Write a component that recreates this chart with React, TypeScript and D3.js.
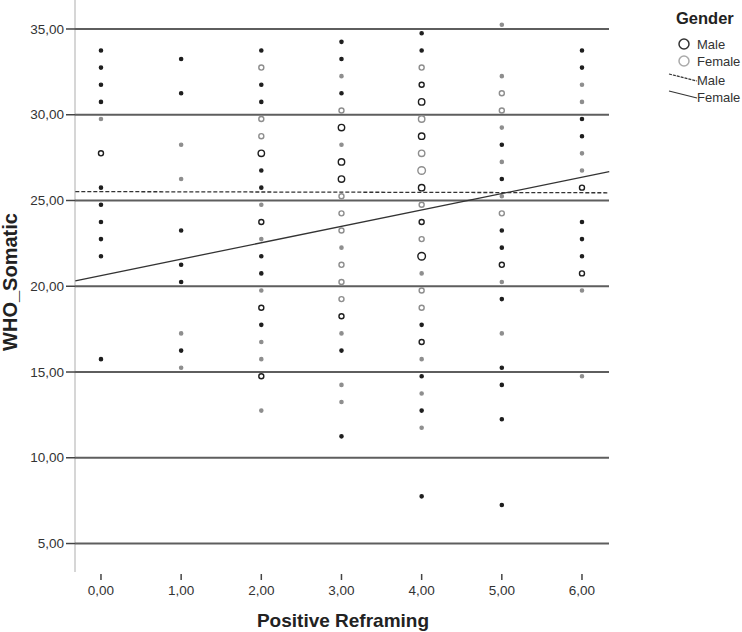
import React, { useEffect, useRef } from "react";
import * as d3 from "d3";

// [Positive Reframing, WHO_Somatic, count]
const malePoints: [number, number, number][] = [
  [0, 33.75, 1], [0, 32.75, 1], [0, 31.75, 1], [0, 30.75, 1], [0, 27.75, 2], [0, 25.75, 1],
  [0, 24.75, 1], [0, 23.75, 1], [0, 22.75, 1], [0, 21.75, 1], [0, 15.75, 1],
  [1, 33.25, 1], [1, 31.25, 1], [1, 23.25, 1], [1, 21.25, 1], [1, 20.25, 1], [1, 16.25, 1],
  [2, 33.75, 1], [2, 31.75, 1], [2, 30.75, 1], [2, 27.75, 3], [2, 26.75, 1], [2, 25.75, 1],
  [2, 23.75, 2], [2, 21.75, 1], [2, 20.75, 1], [2, 18.75, 2], [2, 17.75, 1], [2, 14.75, 2],
  [3, 34.25, 1], [3, 33.25, 1], [3, 31.25, 1], [3, 29.25, 3], [3, 27.25, 3], [3, 26.25, 3],
  [3, 18.25, 2], [3, 16.25, 1], [3, 11.25, 1],
  [4, 34.75, 1], [4, 33.75, 1], [4, 31.75, 2], [4, 30.75, 3], [4, 28.75, 3], [4, 25.75, 3],
  [4, 23.75, 2], [4, 21.75, 4], [4, 17.75, 1], [4, 16.75, 2], [4, 14.75, 1], [4, 12.75, 1], [4, 7.75, 1],
  [5, 28.25, 1], [5, 26.25, 1], [5, 23.25, 1], [5, 22.25, 1], [5, 21.25, 2], [5, 19.25, 1],
  [5, 15.25, 1], [5, 14.25, 1], [5, 12.25, 1], [5, 7.25, 1],
  [6, 33.75, 1], [6, 32.75, 1], [6, 29.75, 1], [6, 28.75, 1], [6, 25.75, 2], [6, 23.75, 1],
  [6, 22.75, 1], [6, 21.75, 1], [6, 20.75, 2],
];

const femalePoints: [number, number, number][] = [
  [0, 29.75, 1],
  [1, 28.25, 1], [1, 26.25, 1], [1, 17.25, 1], [1, 15.25, 1],
  [2, 32.75, 2], [2, 29.75, 2], [2, 28.75, 2], [2, 24.75, 1], [2, 22.75, 1], [2, 19.75, 1],
  [2, 16.75, 1], [2, 15.75, 1], [2, 12.75, 1],
  [3, 32.25, 1], [3, 30.25, 2], [3, 28.25, 1], [3, 25.25, 2], [3, 24.25, 2], [3, 23.25, 2],
  [3, 22.25, 1], [3, 21.25, 2], [3, 20.25, 2], [3, 19.25, 2], [3, 17.25, 1], [3, 14.25, 1], [3, 13.25, 1],
  [4, 32.75, 2], [4, 29.75, 3], [4, 27.75, 3], [4, 26.75, 4], [4, 24.75, 2], [4, 22.75, 2],
  [4, 20.75, 1], [4, 19.75, 2], [4, 18.75, 2], [4, 15.75, 1], [4, 13.75, 1], [4, 11.75, 1],
  [5, 35.25, 1], [5, 32.25, 1], [5, 31.25, 2], [5, 30.25, 2], [5, 29.25, 1], [5, 27.25, 1],
  [5, 25.25, 1], [5, 24.25, 2], [5, 20.25, 1], [5, 17.25, 1],
  [6, 31.75, 1], [6, 30.75, 1], [6, 27.75, 1], [6, 26.75, 1], [6, 19.75, 1], [6, 14.75, 1],
];

// fit line end points at the plot edges
const maleFit: [number, number][] = [[-0.32, 25.52], [6.34, 25.45]];
const femaleFit: [number, number][] = [[-0.32, 20.32], [6.34, 26.68]];

const xTicks = [0, 1, 2, 3, 4, 5, 6];
const yTicks = [5, 10, 15, 20, 25, 30, 35];

const MALE = "#1e1e1e";
const FEMALE = "#8e8e8e";
const FONT = "Arimo, 'Liberation Sans', Arial, sans-serif";

export default function App() {
  const svgRef = useRef<SVGSVGElement>(null);

  useEffect(() => {
    const svg = d3.select(svgRef.current);
    svg.selectAll("*").remove();

    const left = 75, right = 609, top = 0, bottom = 572;
    const xScale = d3.scaleLinear().domain([-0.324, 6.337]).range([left, right]);
    const yScale = d3.scaleLinear().domain([3.34, 36.69]).range([bottom, top]);
    const rScale = d3.scaleSqrt().domain([1, 4]).range([1.6, 3.8]);
    const fmt = (d: number) => d.toFixed(2).replace(".", ",");

    // Y axis line
    svg.append("line")
      .attr("x1", left).attr("x2", left)
      .attr("y1", top).attr("y2", bottom)
      .attr("stroke", "#c8c8c8").attr("stroke-width", 1.5);

    // Gridlines + y ticks
    yTicks.forEach(t => {
      const y = yScale(t);
      svg.append("line")
        .attr("x1", left).attr("x2", right)
        .attr("y1", y).attr("y2", y)
        .attr("stroke", "#5e5e5e").attr("stroke-width", 2);
      svg.append("line")
        .attr("x1", left - 9).attr("x2", left)
        .attr("y1", y).attr("y2", y)
        .attr("stroke", "#444").attr("stroke-width", 1.5);
      svg.append("text")
        .attr("x", left - 11).attr("y", y)
        .attr("dy", "0.35em")
        .attr("text-anchor", "end")
        .attr("font-family", FONT).attr("font-size", 13.5)
        .attr("fill", "#333")
        .text(fmt(t));
    });

    // X ticks
    xTicks.forEach(t => {
      const x = xScale(t);
      svg.append("line")
        .attr("x1", x).attr("x2", x)
        .attr("y1", bottom + 2).attr("y2", bottom + 8)
        .attr("stroke", "#444").attr("stroke-width", 1.5);
      svg.append("text")
        .attr("x", x).attr("y", bottom + 23)
        .attr("text-anchor", "middle")
        .attr("font-family", FONT).attr("font-size", 13.5)
        .attr("fill", "#333")
        .text(fmt(t));
    });

    // Axis titles
    svg.append("text")
      .attr("x", 343).attr("y", 627)
      .attr("text-anchor", "middle")
      .attr("font-family", FONT).attr("font-size", 19).attr("font-weight", "bold")
      .attr("fill", "#222")
      .text("Positive Reframing");
    svg.append("text")
      .attr("transform", `translate(17, 282) rotate(-90)`)
      .attr("text-anchor", "middle")
      .attr("font-family", FONT).attr("font-size", 20).attr("font-weight", "bold")
      .attr("fill", "#222")
      .text("WHO_Somatic");

    // Points
    const drawPoints = (pts: [number, number, number][], color: string) => {
      svg.append("g").selectAll("circle")
        .data(pts)
        .enter()
        .append("circle")
        .attr("cx", d => xScale(d[0]))
        .attr("cy", d => yScale(d[1]))
        .attr("r", d => rScale(d[2]))
        .attr("fill", d => d[2] === 1 ? color : "none")
        .attr("stroke", color)
        .attr("stroke-width", 1.4);
    };
    drawPoints(femalePoints, FEMALE);
    drawPoints(malePoints, MALE);

    // Fit lines
    const line = d3.line<[number, number]>()
      .x(d => xScale(d[0]))
      .y(d => yScale(d[1]));
    svg.append("path")
      .datum(maleFit)
      .attr("d", line)
      .attr("fill", "none")
      .attr("stroke", "#333").attr("stroke-width", 1.3)
      .attr("stroke-dasharray", "4,2");
    svg.append("path")
      .datum(femaleFit)
      .attr("d", line)
      .attr("fill", "none")
      .attr("stroke", "#333").attr("stroke-width", 1.3);

    // Legend
    const lg = svg.append("g");
    lg.append("text")
      .attr("x", 676).attr("y", 24)
      .attr("font-family", FONT).attr("font-size", 16.5).attr("font-weight", "bold")
      .attr("fill", "#222")
      .text("Gender");
    const items = [
      { label: "Male", color: "#333", y: 44 },
      { label: "Female", color: "#aaa", y: 61 },
    ];
    items.forEach(it => {
      lg.append("circle")
        .attr("cx", 684).attr("cy", it.y).attr("r", 5)
        .attr("fill", "none").attr("stroke", it.color).attr("stroke-width", 1.5);
      lg.append("text")
        .attr("x", 697).attr("y", it.y).attr("dy", "0.35em")
        .attr("font-family", FONT).attr("font-size", 13).attr("fill", "#333")
        .text(it.label);
    });
    const lineItems = [
      { label: "Male", dash: "3,1", y: 80 },
      { label: "Female", dash: null, y: 97 },
    ];
    lineItems.forEach(it => {
      const l = lg.append("line")
        .attr("x1", 669).attr("y1", it.y - 6)
        .attr("x2", 697).attr("y2", it.y + 1)
        .attr("stroke", "#333").attr("stroke-width", 1.2);
      if (it.dash) l.attr("stroke-dasharray", it.dash);
      lg.append("text")
        .attr("x", 697).attr("y", it.y).attr("dy", "0.35em")
        .attr("font-family", FONT).attr("font-size", 13).attr("fill", "#333")
        .text(it.label);
    });
  }, []);

  return (
    <svg
      ref={svgRef}
      width={742}
      height={632}
      style={{ position: "absolute", left: 0, top: 0, background: "#fff" }}
    />
  );
}
